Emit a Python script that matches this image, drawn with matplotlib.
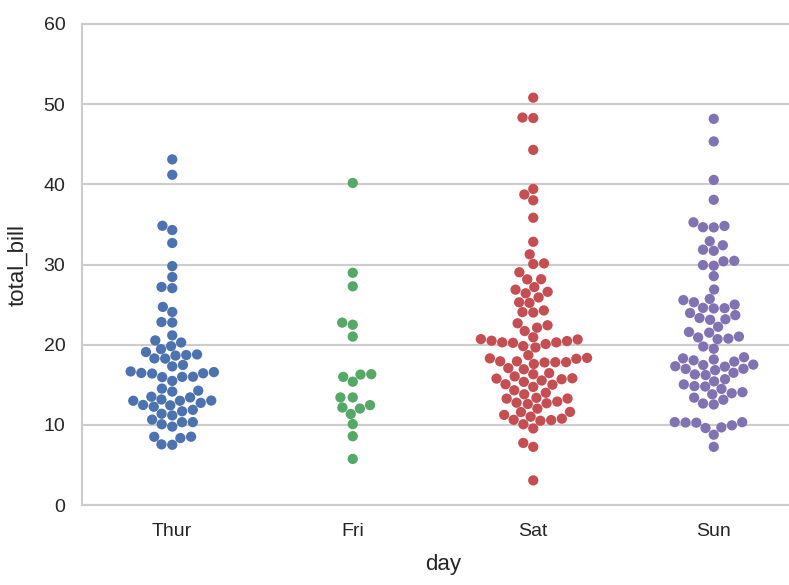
import numpy as np
import pandas as pd
import matplotlib
matplotlib.use("Agg")
import matplotlib.pyplot as plt
from matplotlib import font_manager
import seaborn as sns

# total_bill per day
thur = [27.20, 22.76, 17.29, 19.44, 16.66, 10.07, 32.68, 15.98, 34.83, 13.03, 18.28, 24.71, 21.16,
        10.65, 12.43, 24.08, 11.69, 13.42, 14.26, 15.95, 12.48, 29.80, 8.52, 14.52, 11.38, 22.82,
        19.08, 20.27, 11.17, 12.26, 18.26, 8.51, 10.33, 14.15, 16.00, 13.16, 17.47, 34.30, 41.19,
        27.05, 16.43, 8.35, 18.64, 11.87, 9.78, 7.51, 19.81, 28.44, 15.48, 16.58, 7.56, 10.34,
        43.11, 13.00, 13.51, 18.71, 12.74, 13.00, 16.40, 20.53, 16.47, 18.78]
fri = [28.97, 22.49, 5.75, 16.32, 22.75, 40.17, 27.28, 12.03, 21.01, 12.46, 11.35, 15.38,
       12.16, 13.42, 8.58, 15.98, 13.42, 16.27, 10.09]
sat = [20.65, 17.92, 20.29, 15.77, 39.42, 19.82, 17.81, 13.37, 12.69, 21.70, 19.65, 9.55, 18.35,
       15.06, 20.69, 17.78, 24.06, 16.31, 16.93, 18.69, 31.27, 16.04, 38.01, 26.41, 11.24, 48.27,
       20.29, 13.81, 11.02, 18.29, 17.59, 20.08, 16.45, 3.07, 20.23, 15.01, 12.02, 17.07, 26.86,
       25.28, 14.73, 10.51, 17.92, 44.30, 22.42, 20.92, 15.36, 20.49, 25.21, 18.24, 14.31, 14.00,
       7.25, 10.59, 10.63, 50.81, 15.81, 26.59, 38.73, 24.27, 12.76, 30.06, 25.89, 48.33, 13.27,
       28.17, 12.90, 28.15, 11.59, 7.74, 30.14, 20.45, 13.28, 22.12, 24.01, 15.69, 11.61, 10.77,
       15.53, 10.07, 12.60, 32.83, 35.83, 29.03, 27.18, 22.67, 17.82]
sun = [16.99, 10.34, 21.01, 23.68, 24.59, 25.29, 8.77, 26.88, 15.04, 14.78, 10.27, 35.26, 15.42,
       18.43, 14.83, 21.58, 10.33, 16.29, 16.97, 17.46, 13.94, 9.68, 30.40, 18.29, 22.23, 32.40,
       28.55, 18.04, 12.54, 10.29, 34.81, 9.94, 25.56, 19.49, 38.07, 23.95, 25.71, 17.31, 29.93,
       14.07, 13.13, 17.26, 24.55, 19.77, 29.85, 48.17, 25.00, 13.39, 16.49, 21.50, 12.66, 16.21,
       13.81, 17.51, 24.52, 20.76, 31.71, 7.25, 31.85, 16.82, 32.90, 17.89, 14.48, 9.60, 34.63,
       34.65, 23.33, 45.35, 23.17, 40.55, 20.69, 20.90, 30.46, 18.15, 23.10, 15.69]

days = ["Thur", "Fri", "Sat", "Sun"]
colors = ["#4C72B0", "#55A868", "#C44E52", "#8172B2"]

tips = pd.DataFrame({
    "day": ["Thur"] * len(thur) + ["Fri"] * len(fri) + ["Sat"] * len(sat) + ["Sun"] * len(sun),
    "total_bill": thur + fri + sat + sun,
})

# 参考图的文字偏窄偏高，有 Narrow 就用 Narrow
try:
    font_manager.findfont("Liberation Sans Narrow", fallback_to_default=False)
    family = ["Liberation Sans Narrow", "DejaVu Sans"]
    tick_fs, label_fs = 17, 19
except ValueError:
    family = ["Liberation Sans", "DejaVu Sans"]
    tick_fs, label_fs = 14, 16

sns.set_style("whitegrid")
plt.rcParams["font.family"] = family
plt.rcParams["text.color"] = ".15"
plt.rcParams["axes.labelcolor"] = ".15"
plt.rcParams["xtick.color"] = ".15"
plt.rcParams["ytick.color"] = ".15"

fig = plt.figure(figsize=(7.89, 5.85), dpi=100)
ax = fig.add_axes([82 / 789, 80 / 585, 722 / 789, 481 / 585])
sns.swarmplot(data=tips, x="day", y="total_bill", order=days, hue="day", hue_order=days,
              palette=colors, size=7.4, linewidth=0, legend=False, ax=ax)

ax.set_ylim(0, 60)
ax.set_xlim(-0.5, 3.5)
ax.set_yticks(range(0, 61, 10))
ax.tick_params(axis="y", labelsize=tick_fs, length=0, pad=12)
ax.tick_params(axis="x", labelsize=tick_fs, length=0, pad=13)
ax.set_xlabel("day", fontsize=label_fs, labelpad=10)
ax.set_ylabel("total_bill", fontsize=label_fs, labelpad=11)
for s in ax.spines.values():
    s.set_color(".8")
    s.set_linewidth(1.5)
ax.grid(axis="x", visible=False)
ax.grid(axis="y", color=".8", linewidth=1.5)

plt.savefig("out.png", dpi=100)
